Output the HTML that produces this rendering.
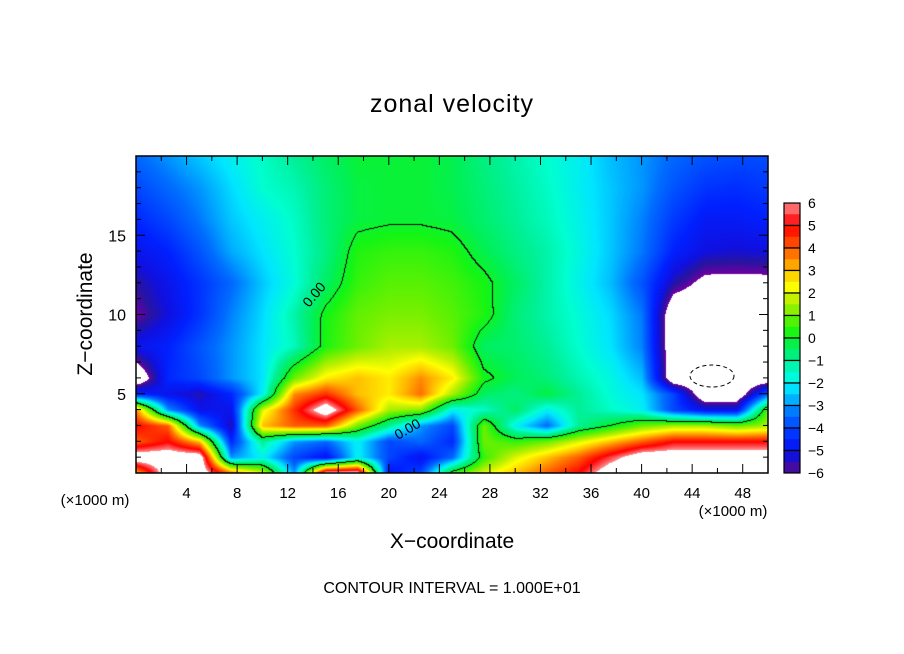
<!DOCTYPE html>
<html><head><meta charset="utf-8"><style>
body{margin:0;background:#fff;width:904px;height:654px;overflow:hidden;position:relative;font-family:"Liberation Sans",sans-serif}
canvas{position:absolute;left:136px;top:156px}
svg{position:absolute;left:0;top:0}
</style></head><body>
<canvas id="field" width="632" height="317"></canvas>
<svg id="ov" width="904" height="654"></svg>
<script>
const xCoords=[0,2.5,5,7.5,10,12.5,15,17.5,20,22.5,25,27.5,30,32.5,35,37.5,40,42.5,45,47.5,50];
const zLevels=[0,1,2,3,4,5,6,8,10,12,14,16,18,20];
const row0=[3,7,7,4,2,-3,7,7,-5,-4,0.5,2,3,4,5,7,7,7,7,7,7];
const row1=[7,7,7,-3,-2,-4,-5,-2,-4,-5,-3.5,0.5,2,3,4,5.5,7,7,7,7,7];
const row2=[4,5,3,-4.5,-1,-3,-3.5,-2,-4,-3.5,-4.5,1,0.5,1,2,3,4,5,5,5,5];
const row3=[5,4,-3,-5.5,3,4,4,1,-1,-3,-4,1,-2,-3.5,-1,0,1,1.5,1.5,1,1.5];
const row4=[3.5,-3,-5,-5,2,4.5,7,4,1.5,1.2,-2,-1.5,-0.5,-2,-1,-1.5,-2,-4,-5,-5,1];
const row5=[-4.5,-5,-5.5,-4.5,-2,3.5,4.5,3,2.5,3.8,1.5,-0.5,-0.8,-0.2,-1,-1.7,-2.2,-4,-7,-7,-3.5];
const row6=[-7,-4.5,-4,-3,-2.2,1,2.5,3,2.5,3.5,2.5,0.2,-0.4,-0.7,-1.3,-1.8,-2.6,-7,-7,-7,-7];
const row8=[-5,-4.6,-3.8,-3,-2.2,-1.4,0.3,1,1.5,1.5,1,-0.5,-0.6,-1,-1.6,-2.2,-3.2,-7,-7,-7,-7];
const row10=[-6,-5.2,-4.3,-3.2,-2.3,-1.2,0.2,0.9,1.1,1.1,0.8,0.3,-0.7,-1.2,-1.7,-2.3,-3.3,-7,-7,-7,-7];
const row12=[-5.6,-5,-4.3,-3.5,-2.5,-1.7,-0.5,0.5,0.8,0.8,0.6,0.2,-0.5,-1.2,-1.9,-2.6,-3.8,-5.5,-6.3,-6.3,-6.3];
const row14=[-5,-4.6,-3.8,-2.8,-2.2,-1.6,-0.8,0.3,0.5,0.5,0.3,-0.3,-0.8,-1.2,-1.8,-2.5,-3.3,-4.6,-5.2,-5.3,-5.2];
const row16=[-4.5,-4,-3.3,-2.5,-2,-1.5,-0.7,-0.2,-0.1,-0.1,-0.2,-0.6,-1,-1.4,-1.9,-2.5,-3.2,-4.2,-4.8,-4.8,-4.6];
const row18=[-4,-3.5,-3,-2.3,-1.6,-1.3,-0.7,-0.2,-0.1,-0.1,-0.3,-0.7,-1.1,-1.5,-2,-2.5,-3,-3.8,-4.3,-4.4,-4.2];
const row20=[-3.5,-3,-2.5,-2,-1.5,-1,-0.5,-0.1,-0.1,-0.1,-0.3,-0.8,-1.2,-1.6,-2,-2.6,-3,-3.5,-3.8,-3.9,-3.9];
const uValues=[row0,row1,row2,row3,row4,row5,row6,row8,row10,row12,row14,row16,row18,row20];
const xTicks=[4,8,12,16,20,24,28,32,36,40,44,48];
const zTicks=[5,10,15];
const cbLabels=[6,5,4,3,2,1,0,-1,-2,-3,-4,-5,-6];

const stops=[[-6,[112,0,160]],[-5.6,[40,20,160]],[-5.2,[16,16,224]],[-4.6,[0,32,255]],[-4,[0,70,255]],[-3.4,[0,110,255]],[-2.8,[0,170,255]],[-2.2,[0,230,255]],[-1.6,[0,255,208]],[-1,[0,240,150]],[-0.4,[0,240,90]],[0.2,[20,245,20]],[1,[110,240,0]],[1.7,[190,240,0]],[2.3,[255,255,0]],[3,[255,192,0]],[3.6,[255,128,0]],[4.3,[255,64,0]],[5,[255,0,0]],[5.6,[255,80,80]],[6,[255,144,144]]];
function cmap(v){
  if(v>6||v<-6) return [255,255,255];
  for(let i=1;i<stops.length;i++){ if(v<=stops[i][0]){const a=stops[i-1],b=stops[i];const t=(v-a[0])/(b[0]-a[0]);return a[1].map((c,k)=>Math.round(c+(b[1][k]-c)*t));}}
  return stops[stops.length-1][1];
}
const W=632,H=317,X0=136,Y0=156;
const xPix=x=>X0+x/50*W, zPix=z=>Y0+H-z/20*H;
function sample(x,z){
  let i=Math.min(xCoords.length-2,Math.max(0,Math.floor(x/2.5)));
  let tx=(x-xCoords[i])/(xCoords[i+1]-xCoords[i]);
  let j=0; while(j<zLevels.length-2&&z>zLevels[j+1]) j++;
  let tz=(z-zLevels[j])/(zLevels[j+1]-zLevels[j]);
  const a=uValues[j][i],b=uValues[j][i+1],c=uValues[j+1][i],d=uValues[j+1][i+1];
  return (a*(1-tx)+b*tx)*(1-tz)+(c*(1-tx)+d*tx)*tz;
}
const cv=document.getElementById('field'),ctx=cv.getContext('2d');
const img=ctx.createImageData(W,H);const F=new Float32Array(W*H);
for(let py=0;py<H;py++)for(let px=0;px<W;px++){F[py*W+px]=sample(px/W*50,(H-py)/H*20);}
for(let py=0;py<H;py++)for(let px=0;px<W;px++){
  const v=F[py*W+px];let c=cmap(v);
  const r=px<W-1?F[py*W+px+1]:v,d=py<H-1?F[(py+1)*W+px]:v;
  if(Math.abs(v)<=6.5&&((v>0)!==(r>0)||(v>0)!==(d>0))) c=[0,0,0];
  const k=(py*W+px)*4;img.data[k]=c[0];img.data[k+1]=c[1];img.data[k+2]=c[2];img.data[k+3]=255;
}
ctx.putImageData(img,0,0);

const NS='http://www.w3.org/2000/svg',ov=document.getElementById('ov');
function el(t,a,txt){const e=document.createElementNS(NS,t);for(const k in a)e.setAttribute(k,a[k]);if(txt!==undefined)e.textContent=txt;ov.appendChild(e);return e;}
let e;
e=el('rect',{x:X0,y:Y0,width:W,height:H,fill:'none',stroke:'#000','stroke-width':1.5});


for(let x=2;x<50;x+=2){const L=x%4===0?9:5;
  e=el('line',{x1:xPix(x),x2:xPix(x),y1:Y0+H,y2:Y0+H-L,stroke:'#000'});
  
  
  e=el('line',{x1:xPix(x),x2:xPix(x),y1:Y0,y2:Y0+L,stroke:'#000'});
  
  }
for(let z=1;z<20;z++){const L=z%5===0?9:5;
  e=el('line',{x1:X0,x2:X0+L,y1:zPix(z),y2:zPix(z),stroke:'#000'});
  
  
  e=el('line',{x1:X0+W,x2:X0+W-L,y1:zPix(z),y2:zPix(z),stroke:'#000'});
  
  }
xTicks.forEach(x=>{e=el('text',{x:xPix(x),y:498,'font-size':15,'text-anchor':'middle'},String(x));
  
  });
zTicks.forEach(z=>{e=el('text',{x:126,y:zPix(z)+6,'font-size':16,'text-anchor':'end'},String(z));
  
  });
e=el('ellipse',{cx:712,cy:376,rx:22,ry:11,fill:'none',stroke:'#000','stroke-dasharray':'4,3'});


[[309,308,-50],[398,440,-30]].forEach(p=>{e=el('text',{x:p[0],y:p[1],'font-size':14,transform:`rotate(${p[2]} ${p[0]} ${p[1]})`},'0.00');
  
  });
const cbTop=203,cbUnit=22.5;
for(let i=0;i<12;i++){const hi=6-i;
  for(let h=0;h<2;h++){const v=hi-0.25-h*0.5;
    e=el('rect',{x:784,y:cbTop+i*cbUnit+h*cbUnit/2,width:16,height:cbUnit/2+0.5,fill:'rgb('+cmap(v).join(',')+')'});
    
    }
  e=el('rect',{x:784,y:cbTop+i*cbUnit,width:16,height:cbUnit,fill:'none',stroke:'#000','stroke-width':1.2});
  
  }
cbLabels.forEach((v,i)=>{e=el('text',{x:808,y:cbTop+i*cbUnit+5,'font-size':14},v<0?'\u2212'+(-v):String(v));
  
  });
</script>
<svg width="904" height="654" style="position:absolute;left:0;top:0">
<text x="452" y="112" font-size="25" text-anchor="middle" font-family="Liberation Sans" letter-spacing="1">zonal velocity</text>
<text x="452" y="548" font-size="21" text-anchor="middle" font-family="Liberation Sans">X−coordinate</text>
<text transform="translate(92,314) rotate(-90)" font-size="21" text-anchor="middle" font-family="Liberation Sans">Z−coordinate</text>
<text x="95" y="505" font-size="15" text-anchor="middle" font-family="Liberation Sans">(×1000 m)</text>
<text x="733" y="516" font-size="15" text-anchor="middle" font-family="Liberation Sans">(×1000 m)</text>
<text x="452" y="593" font-size="16" text-anchor="middle" font-family="Liberation Sans">CONTOUR INTERVAL = 1.000E+01</text>
</svg>
</body></html>
